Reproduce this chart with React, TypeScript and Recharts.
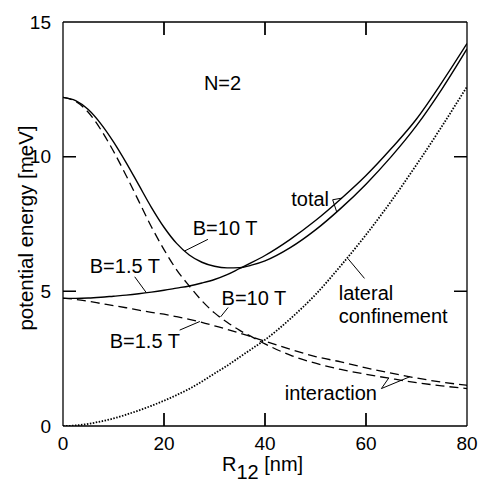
import React from 'react';
import {
    ComposedChart,
    Line,
    Scatter,
    XAxis,
    YAxis,
    ReferenceLine,
    ReferenceArea,
    ReferenceDot,
} from 'recharts';

// R12 sample points [nm]
const rValues = [0, 2.5, 5, 7.5, 10, 12.5, 15, 17.5, 20, 22.5, 25, 27.5, 30, 32.5, 35, 37.5, 40, 45, 50, 55, 60, 65, 70, 75, 80];

// potential energies [meV]
const total10T = [12.2, 12.08, 11.75, 11.22, 10.55, 9.78, 8.95, 8.12, 7.38, 6.78, 6.35, 6.08, 5.93, 5.87, 5.88, 5.98, 6.13, 6.62, 7.28, 8.08, 8.98, 10.0, 11.15, 12.5, 14.0];
const total15T = [4.74, 4.74, 4.75, 4.78, 4.82, 4.86, 4.91, 4.97, 5.04, 5.12, 5.2, 5.31, 5.44, 5.62, 5.85, 6.08, 6.33, 6.93, 7.63, 8.43, 9.3, 10.3, 11.4, 12.75, 14.2];
const interaction10T = [12.2, 12.05, 11.65, 11.0, 10.2, 9.3, 8.35, 7.4, 6.55, 5.8, 5.2, 4.65, 4.2, 3.85, 3.55, 3.3, 3.05, 2.63, 2.33, 2.1, 1.92, 1.76, 1.61, 1.49, 1.39];
const interaction15T = [4.75, 4.7, 4.63, 4.55, 4.47, 4.39, 4.3, 4.22, 4.15, 4.06, 3.96, 3.85, 3.72, 3.59, 3.45, 3.3, 3.15, 2.85, 2.58, 2.38, 2.16, 1.96, 1.78, 1.63, 1.51];
const confinement = [0, 0.02, 0.08, 0.17, 0.28, 0.42, 0.58, 0.75, 0.94, 1.15, 1.38, 1.65, 1.95, 2.24, 2.56, 2.88, 3.2, 3.98, 4.88, 5.95, 7.1, 8.35, 9.7, 11.12, 12.6];

const xTicks = [0, 20, 40, 60, 80];
const yTicks = [0, 5, 10, 15];
// inner tick positions (corners are covered by the frame)
const xInner = [20, 40, 60];
const yInner = [5, 10];

// text annotations, anchored at their left baseline (data coords)
const notes = [
    { text: 'N=2', r: 27.9, e: 12.48 },
    { text: 'total', r: 45.2, e: 8.15 },
    { text: 'B=10 T', r: 25.7, e: 7.09 },
    { text: 'B=1.5 T', r: 5.3, e: 5.68 },
    { text: 'B=10 T', r: 31.4, e: 4.49 },
    { text: 'B=1.5 T', r: 9.25, e: 2.89 },
    { text: 'lateral', r: 54.6, e: 4.67 },
    { text: 'confinement', r: 54.6, e: 3.82 },
    { text: 'interaction', r: 43.9, e: 0.96 },
];

// leader lines from labels to curves
const leaders = [
    [[53.4, 8.4], [55.2, 8.46]],
    [[53.4, 8.4], [54.2, 7.95]],
    [[28.7, 6.93], [24.1, 6.5]],
    [[14.2, 5.54], [16.5, 4.95]],
    [[32.7, 4.4], [31.2, 4.05]],
    [[23.1, 3.56], [27.1, 3.88]],
    [[59.7, 5.48], [56.4, 6.22]],
    [[63.05, 1.39], [64.5, 1.78]],
    [[63.05, 1.39], [68.7, 1.83]],
];

const data = rValues.map((r, i) => ({
    r,
    tot10: total10T[i],
    tot15: total15T[i],
    int10: interaction10T[i],
    int15: interaction15T[i],
    conf: confinement[i],
}));

const bottomTicks = xInner.map((t) => ({ r: t, e: 0 }));
const topTicks = xInner.map((t) => ({ r: t, e: 15 }));
const leftTicks = yInner.map((t) => ({ r: 0, e: t }));
const rightTicks = yInner.map((t) => ({ r: 80, e: t }));

const FONT = '"Liberation Sans", Arial, Helvetica, sans-serif';
const tickStyle = { fill: '#000', fontSize: 19, fontFamily: FONT };
const TICK_LEN = 13;
const TICK_DX = 2.57; // 13px in nm
const TICK_DY = 0.48; // 13px in meV
const HALF_W_X = 0.13; // half of 1.3px in nm
const HALF_W_Y = 0.024; // half of 1.3px in meV

// inward tick mark; dx/dy give its direction
const tickShape = (dx: number, dy: number) => (p: any) => (
    <path
        d={`M${p.cx},${p.cy}L${p.cx + dx * TICK_LEN},${p.cy + dy * TICK_LEN}`}
        stroke="#000"
        strokeWidth={1.3}
        fill="none"
    />
);

const XLabel = (props: any) => {
    const { viewBox } = props;
    const x = viewBox.x + viewBox.width / 2 - 43;
    return (
        <text x={x} y={471} fontSize={20} fontFamily={FONT} fill="#000">
            R<tspan dy={8}>12</tspan><tspan dy={-8}> [nm]</tspan>
        </text>
    );
};

const YLabel = (props: any) => {
    const { viewBox } = props;
    const cx = 25;
    const cy = viewBox.y + viewBox.height / 2 + 4;
    return (
        <text
            x={cx}
            y={cy}
            transform={`rotate(-90 ${cx} ${cy})`}
            textAnchor="middle"
            dominantBaseline="central"
            fontSize={20.5}
            fontFamily={FONT}
            fill="#000"
        >
            potential energy [meV]
        </text>
    );
};

export default function App() {
    return (
        <div style={{ position: 'absolute', left: 0, top: 0, background: '#fff' }}>
            <ComposedChart
                width={480}
                height={483}
                data={data}
                margin={{ top: 21, right: 12, bottom: 27, left: 13 }}
            >
                <XAxis
                    dataKey="r"
                    type="number"
                    domain={[0, 80]}
                    ticks={xTicks}
                    tickLine={false}
                    tickMargin={5}
                    tick={tickStyle}
                    stroke="#000"
                    strokeWidth={1.3}
                    height={30}
                    allowDataOverflow
                    label={{ content: XLabel }}
                />
                <XAxis
                    xAxisId="top"
                    orientation="top"
                    type="number"
                    dataKey="r"
                    domain={[0, 80]}
                    ticks={xTicks}
                    tickLine={false}
                    tick={false}
                    stroke="#000"
                    strokeWidth={1.3}
                    height={1}
                />
                <YAxis
                    type="number"
                    domain={[0, 15]}
                    ticks={yTicks}
                    tickLine={false}
                    tickMargin={6}
                    tick={tickStyle}
                    stroke="#000"
                    strokeWidth={1.3}
                    width={50}
                    allowDataOverflow
                    label={{ content: YLabel }}
                />
                <YAxis
                    yAxisId="right"
                    orientation="right"
                    type="number"
                    domain={[0, 15]}
                    ticks={yTicks}
                    tickLine={false}
                    tick={false}
                    stroke="#000"
                    strokeWidth={1.3}
                    width={1}
                />

                <Line type="monotone" dataKey="conf" stroke="#000" strokeWidth={1.8} strokeDasharray="1.5 1.5" dot={false} activeDot={false} isAnimationActive={false} />
                <Line type="monotone" dataKey="int15" stroke="#000" strokeWidth={1.3} strokeDasharray="9 5" dot={false} activeDot={false} isAnimationActive={false} />
                <Line type="monotone" dataKey="int10" stroke="#000" strokeWidth={1.3} strokeDasharray="9 5" dot={false} activeDot={false} isAnimationActive={false} />
                <Line type="monotone" dataKey="tot15" stroke="#000" strokeWidth={1.4} dot={false} activeDot={false} isAnimationActive={false} />
                <Line type="monotone" dataKey="tot10" stroke="#000" strokeWidth={1.4} dot={false} activeDot={false} isAnimationActive={false} />

                {/* inward tick marks on all four sides */}
                <Scatter data={bottomTicks} dataKey="e" shape={tickShape(0, -1)} isAnimationActive={false} />
                <Scatter data={topTicks} dataKey="e" shape={tickShape(0, 1)} isAnimationActive={false} />
                <Scatter data={leftTicks} dataKey="e" shape={tickShape(1, 0)} isAnimationActive={false} />
                <Scatter data={rightTicks} dataKey="e" shape={tickShape(-1, 0)} isAnimationActive={false} />
                {xInner.map((t) => (
                    <ReferenceArea key={`ab${t}`} x1={t - HALF_W_X} x2={t + HALF_W_X} y1={0} y2={TICK_DY} ifOverflow="visible" fill="#000" fillOpacity={1} stroke="none" />
                ))}
                {xInner.map((t) => (
                    <ReferenceArea key={`at${t}`} x1={t - HALF_W_X} x2={t + HALF_W_X} y1={15 - TICK_DY} y2={15} ifOverflow="visible" fill="#000" fillOpacity={1} stroke="none" />
                ))}
                {yInner.map((t) => (
                    <ReferenceArea key={`al${t}`} x1={0} x2={TICK_DX} y1={t - HALF_W_Y} y2={t + HALF_W_Y} ifOverflow="visible" fill="#000" fillOpacity={1} stroke="none" />
                ))}
                {yInner.map((t) => (
                    <ReferenceArea key={`ar${t}`} x1={80 - TICK_DX} x2={80} y1={t - HALF_W_Y} y2={t + HALF_W_Y} ifOverflow="visible" fill="#000" fillOpacity={1} stroke="none" />
                ))}

                {leaders.map((seg, i) => (
                    <ReferenceLine
                        key={`l${i}`}
                        segment={[{ x: seg[0][0], y: seg[0][1] }, { x: seg[1][0], y: seg[1][1] }]}
                        stroke="#000"
                        strokeWidth={1}
                    />
                ))}

                {notes.map((n, i) => (
                    <ReferenceDot
                        key={`n${i}`}
                        x={n.r}
                        y={n.e}
                        r={0}
                        fill="none"
                        stroke="none"
                        label={{
                            content: (p: any) => (
                                <text
                                    x={p.viewBox.x}
                                    y={p.viewBox.y}
                                    fontSize={20}
                                    fontFamily={FONT}
                                    fill="#000"
                                >
                                    {n.text}
                                </text>
                            ),
                        }}
                    />
                ))}
            </ComposedChart>
        </div>
    );
}
